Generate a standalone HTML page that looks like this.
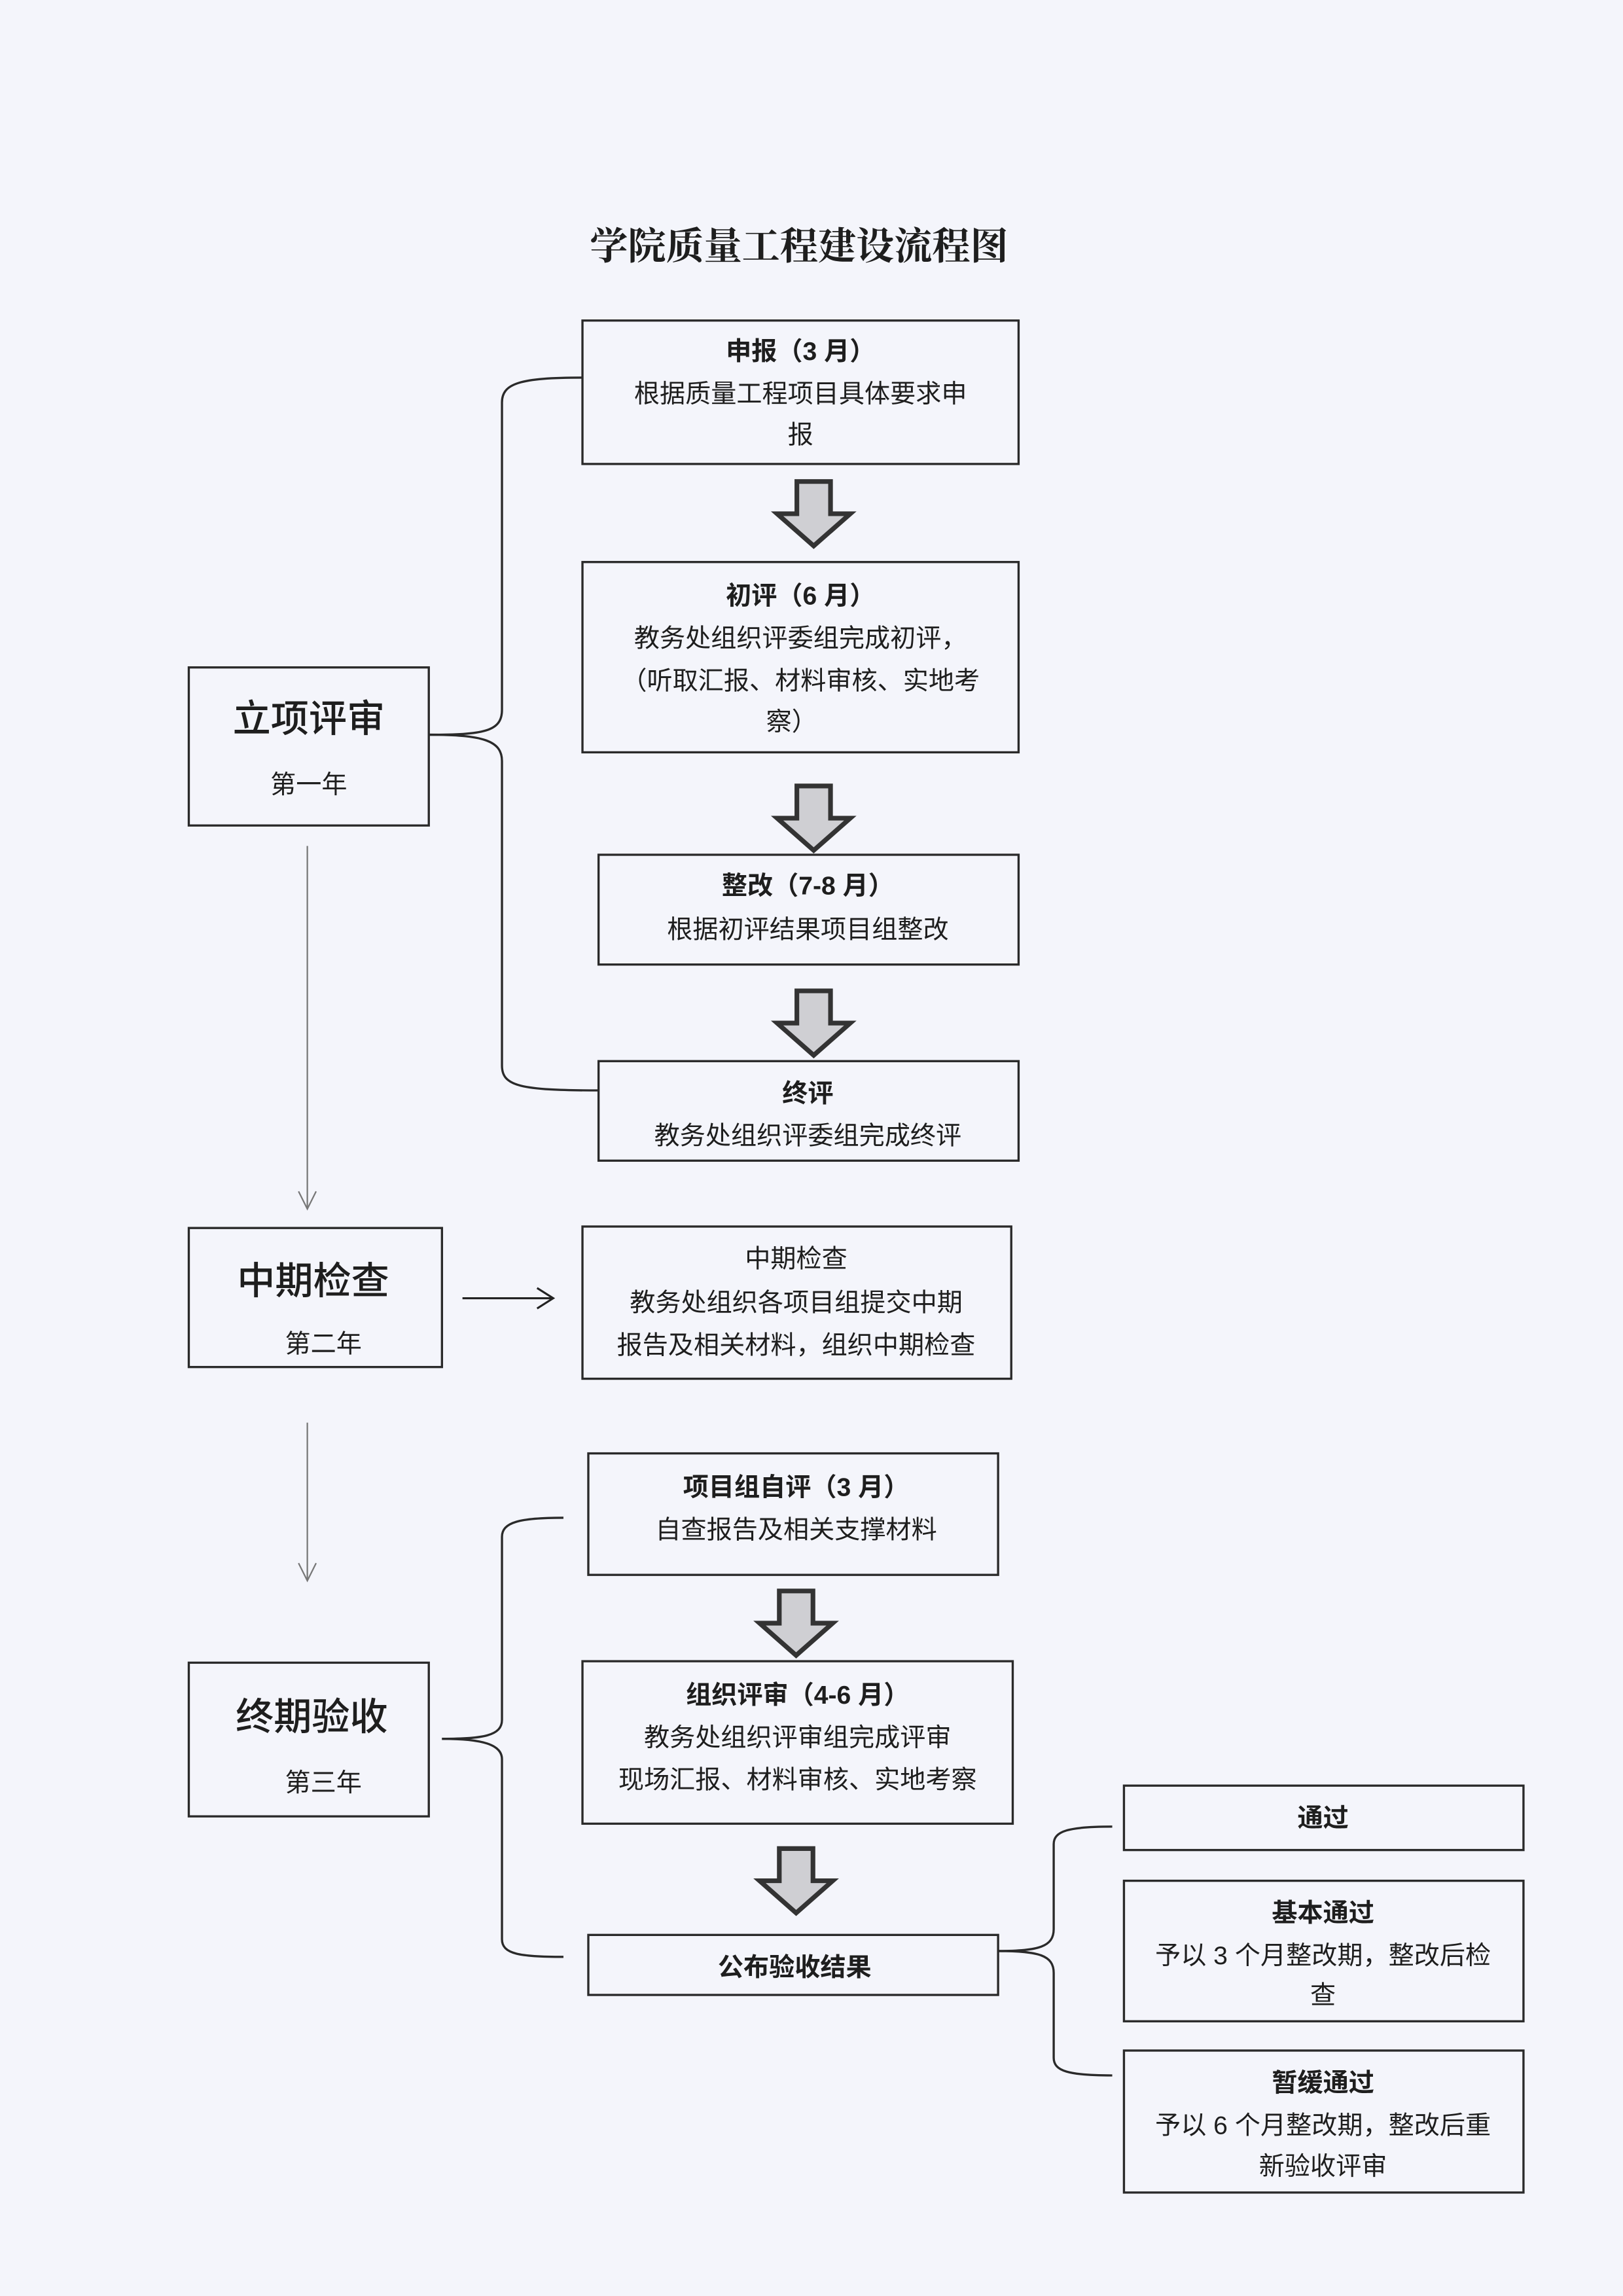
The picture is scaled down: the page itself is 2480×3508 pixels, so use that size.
<!DOCTYPE html>
<html><head><meta charset="utf-8"><style>
html,body{margin:0;padding:0;background:#f4f5fb;}
svg{display:block;}
text{font-family:"Liberation Sans","Noto Sans CJK SC",sans-serif;fill:#1e1e1e;text-anchor:middle;}
.b{fill:none;stroke:#2a2a2a;stroke-width:1.5;}
.t{font-size:17.5px;}
.bt{font-size:17.5px;font-weight:bold;}
.big{font-size:26px;font-weight:500;}
</style></head><body>
<svg width="2480" height="3508" viewBox="0 0 1109 1568.7" xmlns="http://www.w3.org/2000/svg">
<rect width="1109" height="1568.7" fill="#f4f5fb"/>
<defs>
<g id="ba"><path d="M-11.5,0 H11.5 V22 H25 L0,44 L-25,22 H-11.5 Z" fill="#cfcfd3" stroke="#333" stroke-width="3.2" stroke-linejoin="miter"/></g>
</defs>
<text x="546" y="177" style="font-size:26px;font-weight:bold;font-family:'Liberation Serif','Noto Serif CJK SC',serif">学院质量工程建设流程图</text>

<!-- 申报 -->
<rect class="b" x="398" y="219" width="298" height="98"/>
<text class="bt" x="547" y="246">申报（3 月）</text>
<text class="t" x="547" y="275">根据质量工程项目具体要求申</text>
<text class="t" x="547" y="303">报</text>
<use href="#ba" x="556" y="329"/>

<!-- 初评 -->
<rect class="b" x="398" y="384" width="298" height="130"/>
<text class="bt" x="547" y="413">初评（6 月）</text>
<text class="t" x="547" y="442">教务处组织评委组完成初评，</text>
<text class="t" x="547" y="471">（听取汇报、材料审核、实地考</text>
<text class="t" x="541" y="499">察）</text>
<use href="#ba" x="556" y="537"/>

<!-- 整改 -->
<rect class="b" x="409" y="584" width="287" height="75"/>
<text class="bt" x="552" y="611">整改（7-8 月）</text>
<text class="t" x="552" y="641">根据初评结果项目组整改</text>
<use href="#ba" x="556" y="677"/>

<!-- 终评 -->
<rect class="b" x="409" y="725" width="287" height="68"/>
<text class="bt" x="552" y="753">终评</text>
<text class="t" x="552" y="782">教务处组织评委组完成终评</text>

<!-- 立项评审 -->
<rect class="b" x="129" y="456" width="164" height="108"/>
<text class="big" x="211" y="500">立项评审</text>
<text class="t" x="211" y="542">第一年</text>
<path class="b" d="M293,502 C330,502 343,500 343,485 V275 C343,262 355,258 398,258"/>
<path class="b" d="M293,502 C330,502 343,506 343,520 V728 C343,742 355,745 409,745"/>

<!-- thin arrows -->
<line x1="210" y1="578" x2="210" y2="826" stroke="#777" stroke-width="1"/>
<path d="M204,814 L210,826 L216,814" fill="none" stroke="#777" stroke-width="1"/>
<line x1="210" y1="972" x2="210" y2="1080" stroke="#777" stroke-width="1"/>
<path d="M204,1068 L210,1080 L216,1068" fill="none" stroke="#777" stroke-width="1"/>

<!-- 中期检查 -->
<rect class="b" x="129" y="839" width="173" height="95"/>
<text class="big" x="214" y="884">中期检查</text>
<text class="t" x="221" y="924">第二年</text>
<line x1="316" y1="887" x2="377" y2="887" stroke="#222" stroke-width="1.4"/>
<path d="M367,880 L378,887 L367,894" fill="none" stroke="#222" stroke-width="1.4"/>
<rect class="b" x="398" y="838" width="293" height="104"/>
<text class="t" x="544" y="866">中期检查</text>
<text class="t" x="544" y="896">教务处组织各项目组提交中期</text>
<text class="t" x="544" y="925">报告及相关材料，组织中期检查</text>

<!-- 终期验收 -->
<rect class="b" x="129" y="1136" width="164" height="105"/>
<text class="big" x="213" y="1182">终期验收</text>
<text class="t" x="221" y="1224">第三年</text>
<path class="b" d="M302,1188 C330,1188 343,1186 343,1175 V1050 C343,1040 355,1037 385,1037"/>
<path class="b" d="M302,1188 C330,1188 343,1192 343,1202 V1325 C343,1335 355,1337 385,1337"/>

<rect class="b" x="402" y="993" width="280" height="83"/>
<text class="bt" x="544" y="1022">项目组自评（3 月）</text>
<text class="t" x="544" y="1051">自查报告及相关支撑材料</text>
<use href="#ba" x="544" y="1087"/>

<rect class="b" x="398" y="1135" width="294" height="111"/>
<text class="bt" x="545" y="1164">组织评审（4-6 月）</text>
<text class="t" x="545" y="1193">教务处组织评审组完成评审</text>
<text class="t" x="545" y="1222">现场汇报、材料审核、实地考察</text>
<use href="#ba" x="544" y="1263"/>

<rect class="b" x="402" y="1322" width="280" height="41"/>
<text class="bt" x="543" y="1350">公布验收结果</text>

<path class="b" d="M682,1333 C710,1333 720,1330 720,1318 V1260 C720,1251 730,1248 760,1248"/>
<path class="b" d="M682,1333 C710,1333 720,1336 720,1348 V1406 C720,1415 730,1418 760,1418"/>

<rect class="b" x="768" y="1220" width="273" height="44"/>
<text class="bt" x="904" y="1248">通过</text>
<rect class="b" x="768" y="1285" width="273" height="96"/>
<text class="bt" x="904" y="1313">基本通过</text>
<text class="t" x="904" y="1342">予以 3 个月整改期，整改后检</text>
<text class="t" x="904" y="1369">查</text>
<rect class="b" x="768" y="1401" width="273" height="97"/>
<text class="bt" x="904" y="1429">暂缓通过</text>
<text class="t" x="904" y="1458">予以 6 个月整改期，整改后重</text>
<text class="t" x="904" y="1486">新验收评审</text>
</svg>
</body></html>
